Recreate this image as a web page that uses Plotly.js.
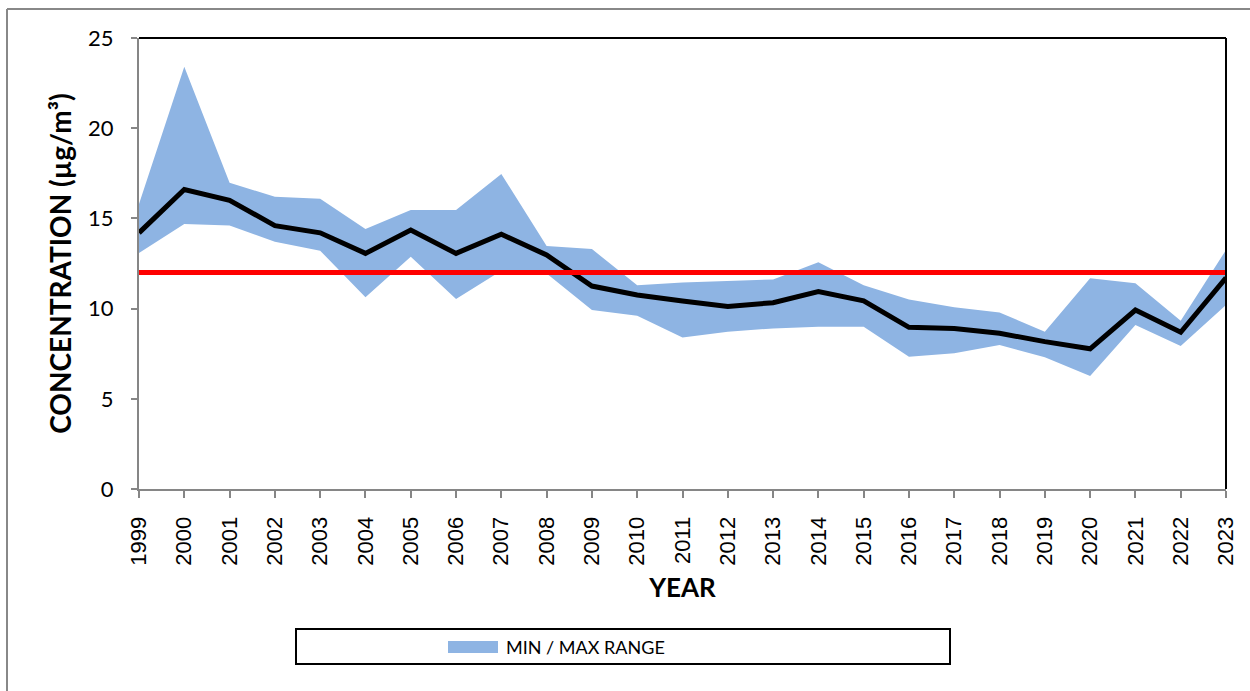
<!DOCTYPE html>
<html>
<head>
<meta charset="utf-8">
<script src="https://cdn.plot.ly/plotly-3.0.1.min.js"></script>
<style>
html,body{margin:0;padding:0;background:#fff;}
#chart{width:1250px;height:691px;}
</style>
</head>
<body>
<div id="chart"></div>
<script>
const years = [1999,2000,2001,2002,2003,2004,2005,2006,2007,2008,2009,2010,2011,2012,2013,2014,2015,2016,2017,2018,2019,2020,2021,2022,2023];
const meanValues = [14.2,16.6,16.0,14.6,14.2,13.06,14.36,13.06,14.12,12.97,11.25,10.75,10.42,10.12,10.33,10.94,10.43,8.96,8.9,8.63,8.17,7.77,9.92,8.69,11.71];
const maxValues = [15.8,23.4,16.98,16.2,16.09,14.41,15.47,15.47,17.46,13.47,13.3,11.3,11.44,11.53,11.62,12.57,11.3,10.5,10.07,9.79,8.72,11.68,11.4,9.33,13.25];
const minValues = [13.08,14.69,14.6,13.71,13.21,10.63,12.88,10.53,12.1,11.95,9.92,9.6,8.4,8.72,8.9,9.0,9.0,7.33,7.52,7.98,7.3,6.26,9.09,7.93,10.2];
const standardValue = 12;
const legendLabel = 'MIN / MAX RANGE';
const xTitle = 'YEAR';
const yTitle = 'CONCENTRATION (µg/m³)';

const fillColor = '#8EB4E3';

const traces = [
  {x: years, y: minValues, type: 'scatter', mode: 'lines', line: {width: 0, color: fillColor}, showlegend: false, hoverinfo: 'skip'},
  {x: years, y: maxValues, type: 'scatter', mode: 'lines', line: {width: 0, color: fillColor}, fill: 'tonexty', fillcolor: fillColor, name: legendLabel, showlegend: false},
  {x: years, y: meanValues, type: 'scatter', mode: 'lines', line: {width: 5, color: '#000000'}, showlegend: false},
  {x: years, y: years.map(() => standardValue), type: 'scatter', mode: 'lines', line: {width: 5, color: '#FF0000'}, showlegend: false}
];

const W = 1250, H = 691, L = 139, R = 24, T = 38, B = 202;
const pw = W - L - R, ph = H - T - B;
const px = v => (v - L) / pw;
const py = v => (H - B - v) / ph;

const layout = {
  width: W, height: H,
  margin: {l: L, r: R, t: T, b: B, pad: 0},
  paper_bgcolor: '#ffffff', plot_bgcolor: '#ffffff',
  showlegend: false,
  xaxis: {
    range: [1999, 2023], tickmode: 'array', tickvals: years, ticktext: years.map(String),
    tickangle: -90, ticks: 'outside', ticklen: 7, tickwidth: 2, tickcolor: '#868686',
    ticklabelstandoff: 10,
    showline: true, linecolor: '#868686', linewidth: 2, showgrid: false, zeroline: false,
    tickfont: {family: 'Liberation Sans, Arial, sans-serif', size: 22, color: '#000'},
    title: {text: xTitle, font: {family: 'Lato, sans-serif', size: 26, color: '#000', weight: 'bold'}, standoff: 14},
    fixedrange: true
  },
  yaxis: {
    range: [0, 25], dtick: 5, ticks: 'outside', ticklen: 6, tickwidth: 2, tickcolor: '#868686',
    ticklabelstandoff: 13,
    showline: true, linecolor: '#868686', linewidth: 2, showgrid: false, zeroline: false,
    tickfont: {family: 'Lato, sans-serif', size: 22, color: '#000'},
    title: {text: yTitle, font: {family: 'Lato, sans-serif', size: 28, color: '#000', weight: 'bold'}, standoff: 8},
    fixedrange: true
  },
  shapes: [
    {type: 'line', xref: 'paper', yref: 'paper', x0: 0, x1: 1, y0: 1, y1: 1, line: {color: '#000', width: 2}},
    {type: 'line', xref: 'paper', yref: 'paper', x0: 1, x1: 1, y0: 0, y1: 1, line: {color: '#000', width: 2}},
    {type: 'line', xref: 'paper', yref: 'paper', x0: px(7), x1: px(1260), y0: py(9), y1: py(9), line: {color: '#888888', width: 2}},
    {type: 'line', xref: 'paper', yref: 'paper', x0: px(7), x1: px(7), y0: py(9), y1: py(700), line: {color: '#888888', width: 2}},
    {type: 'rect', xref: 'paper', yref: 'paper', x0: px(296), x1: px(950), y0: py(629), y1: py(664), line: {color: '#000', width: 2}, fillcolor: 'rgba(0,0,0,0)'},
    {type: 'rect', xref: 'paper', yref: 'paper', x0: px(448), x1: px(498), y0: py(641), y1: py(653), line: {width: 0}, fillcolor: fillColor}
  ],
  annotations: [
    {xref: 'paper', yref: 'paper', x: px(504), y: py(647), xanchor: 'left', yanchor: 'middle', showarrow: false,
     text: legendLabel, font: {family: 'Lato, sans-serif', size: 18, color: '#000'}}
  ]
};

Plotly.newPlot('chart', traces, layout, {displayModeBar: false, staticPlot: true});
</script>
</body>
</html>
